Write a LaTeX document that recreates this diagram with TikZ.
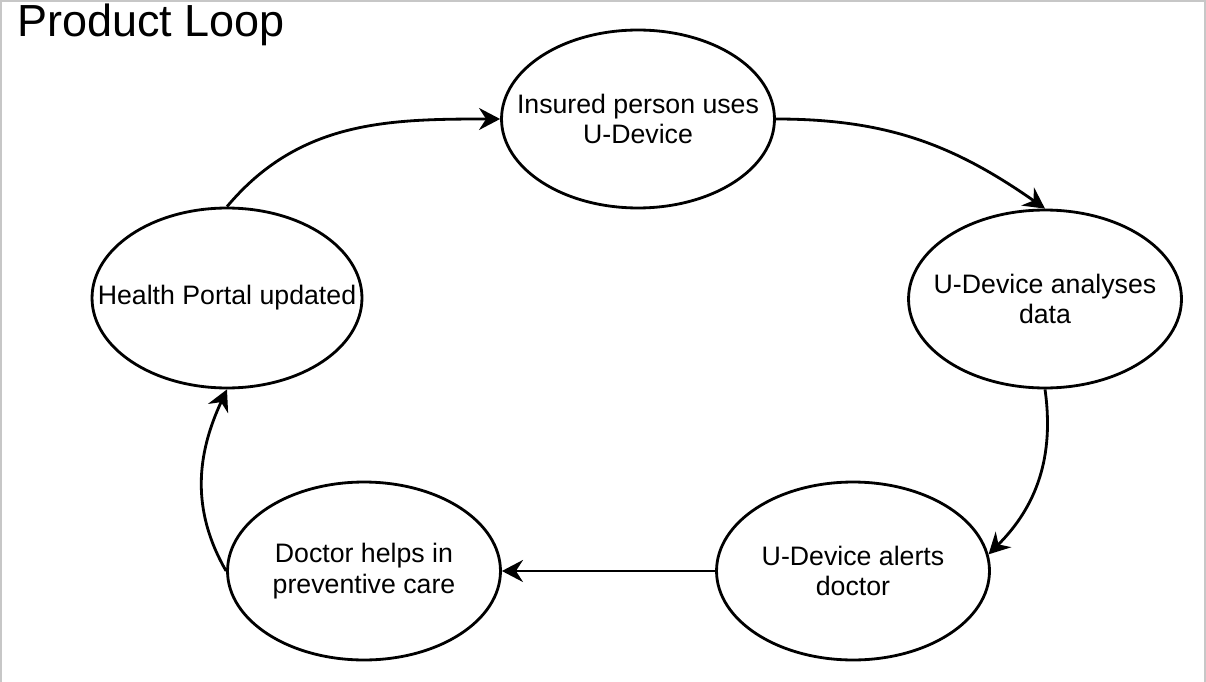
\documentclass[tikz,border=0pt]{standalone}
\usepackage{fontspec}
\setmainfont{Liberation Sans}
\usetikzlibrary{shapes.geometric,arrows.meta}
\tikzstyle{stage} = [ellipse, draw, line width=1.6pt, minimum width=5.46cm, minimum height=3.56cm, inner xsep=-1cm, inner ysep=0pt, align=center, font=\fontsize{15.2}{17.2}\selectfont]
\tikzstyle{arrow} = [line width=1.6pt,->,>={Stealth[length=12pt,width=12.5pt,inset=4pt]}]

\begin{document}
\begin{tikzpicture}[x=0.02cm, y=-0.02cm]
    \useasboundingbox (0,0) rectangle (1206,682);
    \draw[black!22, line width=0.05cm] (1.2,682) -- (1.2,1.2) -- (1204.8,1.2) -- (1204.8,682);
    \node[anchor=base west, inner sep=0pt, font=\fontsize{25.6}{30}\selectfont] (title) at (17,37) {Product Loop};
    \node[stage] (use) at (638,119) {Insured person uses\\U-Device};
    \node[stage] (analyse) at (1045,299) {U-Device analyses\\data};
    \node[stage] (alert) at (853,571) {U-Device alerts\\doctor};
    \node[stage] (doctor) at (364,571) {Doctor helps in\\preventive care};
    \node[stage, minimum width=5.4cm, minimum height=3.6cm] (portal) at (227,298) {Health Portal updated};
    \draw[arrow] (portal.north) to[out=50, in=180] (use.west);
    \draw[arrow] (use.east) to[out=0, in=145] (analyse.north);
    \draw[arrow] (analyse.south) to[out=-82, in=45] (alert.7);
    \draw[arrow] (alert.west) -- (doctor.east);
    \draw[arrow] (doctor.west) to[out=120, in=-115] (portal.south);
\end{tikzpicture}
\end{document}
